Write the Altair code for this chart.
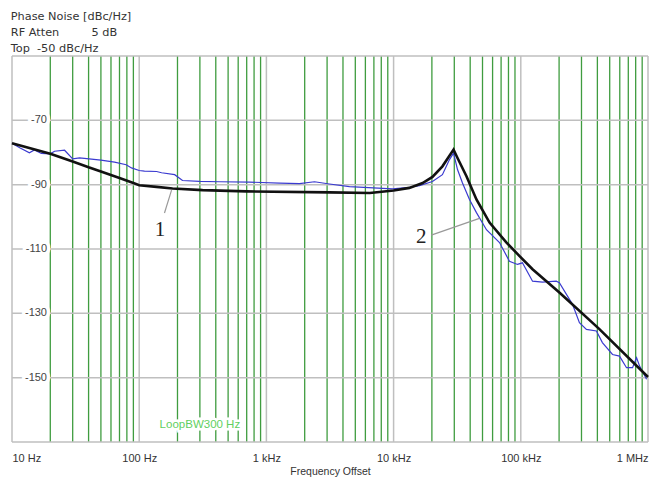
import altair as alt
import pandas as pd

# ---- data ----
model_freq = [10, 20, 30, 40, 50, 70, 90, 100, 137, 183, 315, 700, 3130, 6500, 10000,
              13300, 16900, 20200, 24200, 29600, 31800, 37400, 44800, 56800, 77200,
              97800, 123700, 201000, 415000, 1000000]
model_db = [-77.1, -80.4, -82.8, -84.6, -85.9, -87.9, -89.5, -90.2, -90.7, -91.2, -91.7,
            -92.1, -92.4, -92.6, -91.8, -91.0, -89.5, -87.6, -84.3, -79.1, -81.7, -87.4,
            -94.6, -101.8, -108.0, -112.2, -116.3, -123.5, -134.9, -149.8]

meas_freq = [10, 11.5, 13.7, 15, 17, 20, 21.6, 25.9, 30, 34, 50, 64, 79, 87, 100, 110,
             137, 150, 190, 219, 298, 428, 736, 1268, 1819, 2388, 3130, 4500, 9800,
             13300, 16000, 20200, 24200, 27500, 29600, 31800, 34800, 39500, 44800,
             53700, 68000, 81400, 94200, 103000, 123700, 148000, 190000, 201000,
             255000, 289000, 328000, 393000, 438000, 526000, 597000, 678000, 756000,
             813000, 859000, 975000]
meas_db = [-77.1, -78.5, -80.1, -79.2, -80.3, -80.4, -79.6, -79.3, -82.0, -81.7, -82.4,
           -83.0, -83.8, -84.8, -85.6, -85.8, -85.9, -86.3, -86.9, -88.7, -89.0, -89.1,
           -89.2, -89.5, -89.7, -89.1, -89.8, -90.6, -91.3, -90.8, -90.3, -89.0, -86.9,
           -82.2, -80.2, -85.3, -89.5, -94.6, -98.7, -104.0, -108.0, -113.8, -114.8,
           -114.3, -120.0, -120.3, -120.0, -120.5, -127.2, -132.9, -135.0, -135.5,
           -139.1, -142.8, -143.3, -146.9, -146.9, -143.8, -146.4, -150.5]

decade_freqs = [10, 100, 1000, 10000, 100000, 1000000]
decade_labels = ["10 Hz", "100 Hz", "1 kHz", "10 kHz", "100 kHz", "1 MHz"]
minor_mult = [2, 3, 4, 5, 6, 7, 8, 9]
y_grid = [-170, -150, -130, -110, -90, -70, -50]
y_labels = [-70, -90, -110, -130, -150]

header_lines = ["Phase Noise [dBc/Hz]",
                "RF Atten" + "\u00a0" * 9 + "5 dB",
                "Top\u00a0\u00a0-50 dBc/Hz"]

# annotations (data coordinates)
ann_text = ["1", "2"]
ann_freq = [146, 16480]
ann_db = [-104.1, -106.2]
lead_f1 = [158, 19770]
lead_d1 = [-98.8, -105.7]
lead_f2 = [179.6, 47300]
lead_d2 = [-91.7, -100.5]

loop_text = ["LoopBW300 Hz"]
loop_freq = [300]
loop_db = [-164.6]

# ---- tables ----
model = pd.DataFrame({"f": model_freq, "db": model_db})
meas = pd.DataFrame({"f": meas_freq, "db": meas_db})
minor_df = pd.DataFrame({"f": [m * d for d in decade_freqs[:-1] for m in minor_mult]})
decade_df = pd.DataFrame({"f": decade_freqs, "lab": decade_labels})
ygrid_df = pd.DataFrame({"db": y_grid})
ylab_df = pd.DataFrame({"db": y_labels, "t": [str(v) for v in y_labels]})
ann_df = pd.DataFrame({"t": ann_text, "f": ann_freq, "db": ann_db})
lead_df = pd.DataFrame({"f": lead_f1, "db": lead_d1, "f2": lead_f2, "db2": lead_d2})
loop_df = pd.DataFrame({"t": loop_text, "f": loop_freq, "db": loop_db})

xs = alt.Scale(type="log", domain=[10, 1000000], nice=False)
ys = alt.Scale(domain=[-170, -50], nice=False, zero=False)

label_expr = ("datum.value == 10 ? '10 Hz' : datum.value == 100 ? '100 Hz' : "
              "datum.value == 1000 ? '1 kHz' : datum.value == 10000 ? '10 kHz' : "
              "datum.value == 100000 ? '100 kHz' : '1 MHz'")

x_axis = alt.Axis(values=decade_freqs, labelExpr=label_expr, labelFlush=True,
                  domain=False, ticks=False, grid=False,
                  labelFont="Liberation Sans", labelFontSize=11,
                  labelColor="#333", labelPadding=10,
                  title="Frequency Offset", titleFont="Liberation Sans",
                  titleFontSize=10.5, titleFontWeight="normal",
                  titleColor="#333", titlePadding=3)


def X():
    return alt.X("f:Q", scale=xs, axis=x_axis)


def Y():
    return alt.Y("db:Q", scale=ys, axis=None)


green_rules = alt.Chart(minor_df).mark_rule(color="#3f9c3f", strokeWidth=1.3).encode(x=X())

gray_v = alt.Chart(decade_df).mark_rule(color="#bfbfbf", strokeWidth=1.5).encode(x=X())

gray_h = alt.Chart(ygrid_df).mark_rule(color="#bfbfbf", strokeWidth=1.5).encode(y=Y())

ylab_halo = alt.Chart(ylab_df).mark_text(
    align="right", baseline="middle", font="Liberation Sans", fontSize=11,
    stroke="white", strokeWidth=7, color="white"
).encode(x=alt.value(35), y=Y(), text="t:N")

ylab = alt.Chart(ylab_df).mark_text(
    align="right", baseline="middle", font="Liberation Sans", fontSize=11, color="#444"
).encode(x=alt.value(35), y=Y(), text="t:N")

loop_halo = alt.Chart(loop_df).mark_text(
    align="center", baseline="middle", font="Liberation Sans", fontSize=11.5,
    stroke="white", strokeWidth=5, color="white"
).encode(x=X(), y=Y(), text="t:N")

loop = alt.Chart(loop_df).mark_text(
    align="center", baseline="middle", font="Liberation Sans", fontSize=11.5, color="#5fcf5f"
).encode(x=X(), y=Y(), text="t:N")

meas_line = alt.Chart(meas).mark_line(color="#3b3bd0", strokeWidth=1.2).encode(x=X(), y=Y())

model_line = alt.Chart(model).mark_line(color="#111111", strokeWidth=2.6).encode(x=X(), y=Y())

leaders = alt.Chart(lead_df).mark_rule(color="#999999", strokeWidth=1.2).encode(
    x=X(), x2="f2:Q", y=Y(), y2="db2:Q"
)

ann = alt.Chart(ann_df).mark_text(
    align="center", baseline="middle", font="Liberation Serif", fontSize=21, color="#222"
).encode(x=X(), y=Y(), text="t:N")

chart = alt.layer(
    green_rules, gray_v, gray_h, ylab_halo, ylab, loop_halo, loop,
    meas_line, model_line, leaders, ann
).properties(
    width=636, height=386,
    title=alt.Title(text=header_lines, anchor="start", font="DejaVu Sans", fontSize=11.3,
                    fontWeight="normal", color="#333", lineHeight=16, offset=1, dx=4),
    autosize=alt.AutoSizeParams(type="none"),
    padding={"left": 12, "top": 56, "right": 1, "bottom": 36},
    background="white"
).configure_view(stroke=None)

chart.save("out.html", embed_options={"renderer": "svg", "actions": False})
